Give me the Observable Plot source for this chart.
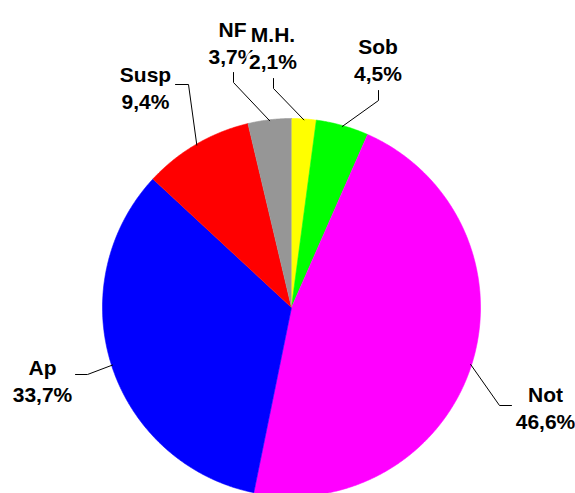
<!DOCTYPE html>
<html><head><meta charset="utf-8">
<script src="https://cdn.jsdelivr.net/npm/d3@7"></script>
<script src="https://cdn.jsdelivr.net/npm/@observablehq/plot@0.6"></script>
<style>html,body{margin:0;padding:0;background:#fff}</style>
</head><body><div id="chart"></div>
<script>
// ---- data ----
const categories = ["M.H.", "Sob", "Not", "Ap", "Susp", "NF"];
const shares = [2.1, 4.5, 46.6, 33.7, 9.4, 3.7];
const valueLabels = ["2,1%", "4,5%", "46,6%", "33,7%", "9,4%", "3,7%"];
const sliceColors = ["#ffff00", "#00ff00", "#ff00ff", "#0000ff", "#ff0000", "#969696"];

// ---- layout ----
const W = 575, H = 493, CX = 291, CY = 307, R = 189;
// label box: centre x, cap-top of first line
const labelXY = [[272.5, 22], [377.5, 34], [545, 382], [42, 355], [145, 62], [232, 17]];
// leader elbow and end points
const leaderElbow = [[273, 88], [378, 100], [499, 405], [87, 374], [188, 84], [233, 82]];
const leaderEnd = [[273, 78], [378, 90], [511, 405], [75, 374], [175, 84], [233, 72]];

const arcs = d3.pie().sort(null).startAngle(0).endAngle(2 * Math.PI)(shares);
const pt = (a, r) => [CX + r * Math.sin(a), CY - r * Math.cos(a)];

const slicePts = [];
arcs.forEach((a, i) => {
  const c = categories[i];
  slicePts.push({cat: c, x: CX, y: CY});
  const n = Math.max(8, Math.ceil((a.endAngle - a.startAngle) / 0.005));
  for (let k = 0; k <= n; k++) {
    const [x, y] = pt(a.startAngle + (a.endAngle - a.startAngle) * k / n, R);
    slicePts.push({cat: c, x, y});
  }
});

const leaderPts = [];
arcs.forEach((a, i) => {
  const c = categories[i];
  const [sx, sy] = pt((a.startAngle + a.endAngle) / 2, R - 1);
  leaderPts.push({cat: c, x: sx, y: sy});
  leaderPts.push({cat: c, x: leaderElbow[i][0], y: leaderElbow[i][1]});
  leaderPts.push({cat: c, x: leaderEnd[i][0], y: leaderEnd[i][1]});
});

// NF drawn first so the M.H. label covers it, as in the original
const order = [5, 0, 1, 2, 3, 4];
const labelData = order.map(i => ({
  text: categories[i] + "\n" + valueLabels[i],
  x: labelXY[i][0], y: labelXY[i][1]
}));

const chart = Plot.plot({
  width: W, height: H, margin: 0,
  x: {domain: [0, W], range: [0, W], axis: null},
  y: {domain: [0, H], range: [0, H], axis: null},
  color: {domain: categories, range: sliceColors},
  style: {fontFamily: "'Liberation Sans', Arial, sans-serif", background: "#fff"},
  marks: [
    Plot.line(slicePts, {x: "x", y: "y", z: "cat", fill: "cat", stroke: "cat", strokeWidth: 0.6, curve: "linear"}),
    Plot.line(leaderPts, {x: "x", y: "y", z: "cat", stroke: "#000", strokeWidth: 1, curve: "linear"}),
    Plot.text(labelData, {
      x: "x", y: "y", text: "text", textAnchor: "middle", lineAnchor: "top", lineHeight: 1.3,
      fontSize: 21, fontWeight: "bold", fill: "#000", stroke: "#fff", strokeWidth: 7, paintOrder: "stroke"
    })
  ]
});
document.getElementById("chart").append(chart);
</script>
</body></html>
